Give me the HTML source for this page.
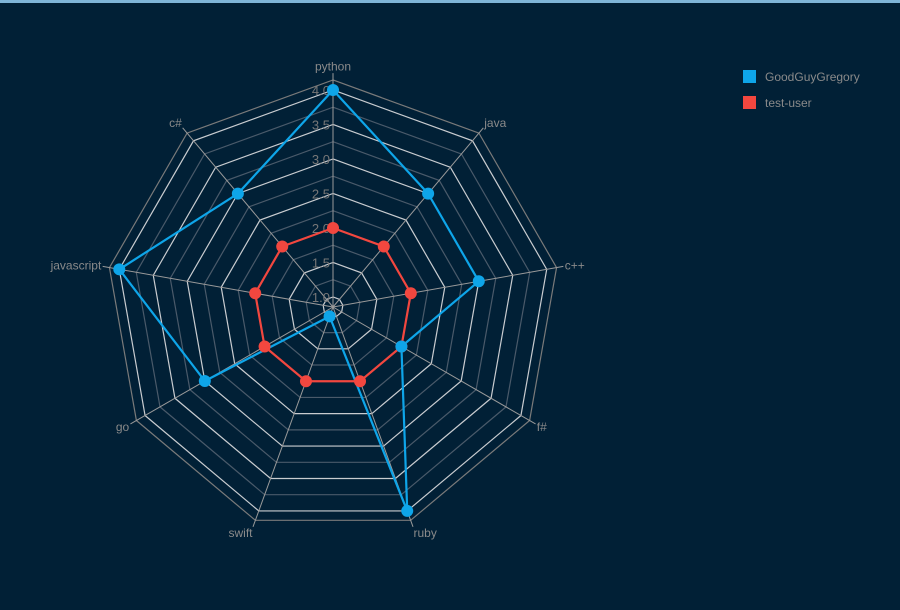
<!DOCTYPE html>
<html><head><meta charset="utf-8"><style>
html,body{margin:0;padding:0;background:#012036;}
#wrap{position:relative;width:900px;height:610px;background:#012036;border-top:3px solid #7fb5d8;box-sizing:border-box;overflow:hidden;font-family:"Liberation Sans",sans-serif;}
svg{position:absolute;left:0;top:-3px;}
</style></head><body>
<div id="wrap">
<svg id="chart" width="900" height="610"></svg>
</div>
<script>
const categories = ["python","java","c++","f#","ruby","swift","go","javascript","c#"];
const seriesNames = ["GoodGuyGregory","test-user"];
const seriesGood = [4,3,3,2,4,1,3,4,3];
const seriesTest = [2,2,2,2,2,2,2,2,2];
const tickLabels = ["1.0","1.5","2.0","2.5","3.0","3.5","4.0"];
const tickValues = [1,1.5,2,2.5,3,3.5,4];
const colors = ["#0ea5e9","#f2473f"];

const NS="http://www.w3.org/2000/svg";
const svg=document.getElementById('chart');
const cx=333, cy=307, vMin=0.855, vMax=4.145, unit=69;
function rScale(v){return (v-vMin)*unit;}
function pt(i,v){const a=i*2*Math.PI/categories.length;const r=rScale(v);return [cx+r*Math.sin(a), cy-r*Math.cos(a)];}
function mk(tag,attrs){const e=document.createElementNS(NS,tag);for(const k in attrs)e.setAttribute(k,attrs[k]);svg.appendChild(e);return e;}

for(let v=1;v<=4.001;v+=0.25){
  const major=Math.abs((v*2)-Math.round(v*2))<1e-6;
  const pts=categories.map((c,i)=>pt(i,v).join(',')).join(' ');
  const e=mk('polygon',{points:pts,fill:'none',stroke:major?'#c9ccd0':'#4a5a6a','stroke-width':1.2});
  
  
}
{
  const pts=categories.map((c,i)=>pt(i,vMax).join(',')).join(' ');
  const e=mk('polygon',{points:pts,fill:'none',stroke:'#7a7a7a','stroke-width':1.2});
  
  
}
categories.forEach((c,i)=>{
  const p=pt(i,vMax+0.1);
  const l=mk('line',{x1:cx,y1:cy,x2:p[0],y2:p[1],stroke:'#9a9a9a','stroke-width':1});
  
  
  const a=i*2*Math.PI/categories.length;
  const q=pt(i,vMax+0.12);
  const s=Math.sin(a);
  const anchor=Math.abs(s)<0.1?'middle':(s>0?'start':'end');
  const y=q[1]+4-5*Math.cos(a);
  const t=mk('text',{x:q[0],y:y,'text-anchor':anchor,fill:'#8a8a8a','font-size':12});
  t.textContent=c;
  
  
});
tickValues.forEach((v,i)=>{
  const t=mk('text',{x:cx-3,y:cy-rScale(v)+5,'text-anchor':'end',fill:'#777','font-size':13});
  t.textContent=tickLabels[i];
  
  
});
[seriesGood,seriesTest].forEach((vals,s)=>{
  const pts=vals.map((v,i)=>pt(i,v).join(',')).join(' ');
  const p=mk('polygon',{points:pts,fill:'none',stroke:colors[s],'stroke-width':2.2});
  
  
});
[seriesTest,seriesGood].forEach((vals,k)=>{
  const s=k===0?1:0;
  vals.forEach((v,i)=>{
    const q=pt(i,v);
    const c=mk('circle',{cx:q[0],cy:q[1],r:6,fill:colors[s]});
    
    
  });
});
seriesNames.forEach((n,s)=>{
  const r=mk('rect',{x:743,y:70+s*26,width:13,height:13,fill:colors[s]});
  
  
  const t=mk('text',{x:765,y:81+s*26,fill:'#8a8a8a','font-size':12});
  t.textContent=n;
  
  
});
</script>
</body></html>
